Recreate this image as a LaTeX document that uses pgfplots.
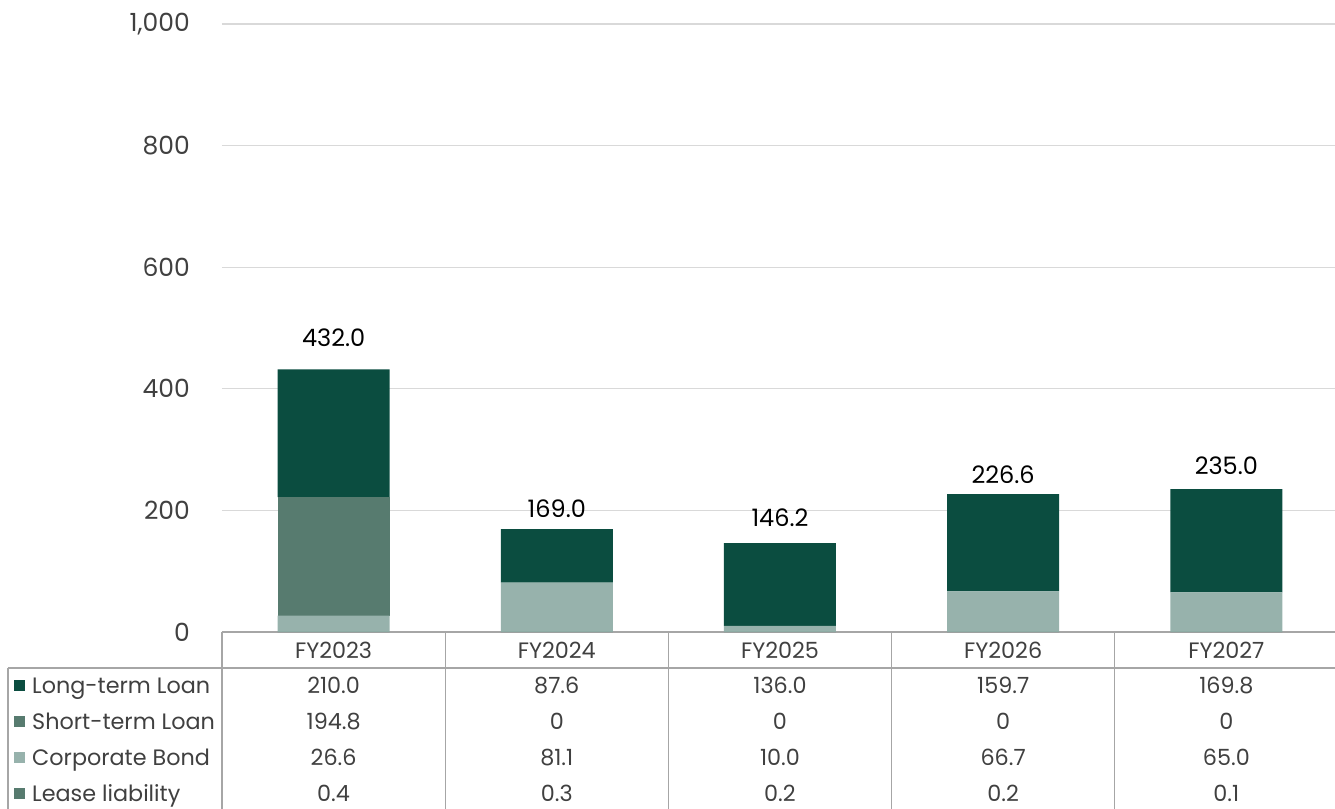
\documentclass[border=0pt]{standalone}
\usepackage{fontspec}
\setmainfont{Poppins}
\usepackage{pgfplots}
\usepackage{pgfplotstable}
\pgfplotsset{compat=1.18}
\definecolor{clt}{HTML}{0B4D40}
\definecolor{cst}{HTML}{577B6F}
\definecolor{ccb}{HTML}{97B2AC}
\definecolor{cll}{HTML}{577B6F}
\definecolor{txt}{HTML}{404040}
\definecolor{gridc}{HTML}{D9D9D9}
\definecolor{tline}{HTML}{A6A6A6}
\newcommand\tickfont{\fontsize{25}{30}\selectfont}
\newcommand\tabfont{\fontsize{22.3}{26}\selectfont}
\newcommand\lblfont{\fontsize{24}{28}\selectfont}

\pgfplotstableread{
x   lt    st    cb   ll  total dy
0.5 210.0 194.8 26.6 0.4 432.0 32
1.5 87.6  0     81.1 0.3 169.0 21
2.5 136.0 0     10.0 0.2 146.2 25
3.5 159.7 0     66.7 0.2 226.6 20
4.5 169.8 0     65.0 0.1 235.0 23
}\data

\begin{document}
\begin{tikzpicture}
\pgfplotsset{base/.style={
  at={(0pt,0pt)}, anchor=south west, scale only axis,
  width=1116pt, height=608pt,
  xmin=0, xmax=5, ymin=0, ymax=1000,
}}
\begin{axis}[base,
  ybar stacked, bar width=112pt,
  axis lines*=left,
  y axis line style={draw=none},
  x axis line style={tline, line width=1.3pt},
  major tick length=0pt,
  ymajorgrids, major grid style={gridc, line width=1.2pt},
  ytick={0,200,400,600,800,1000},
  /pgf/number format/assume math mode=true,
  /pgf/number format/1000 sep={,},
  yticklabel style={anchor=east, inner sep=0pt, xshift=-32pt, font=\tickfont, text=txt},
  xtick={0.5,1.5,2.5,3.5,4.5},
  xticklabels={FY2023,FY2024,FY2025,FY2026,FY2027},
  xticklabel style={anchor=base, inner sep=0pt, yshift=-26pt, font=\tabfont, text=txt},
]
\addplot[fill=cll, draw=none] table[x=x, y=ll]{\data};
\addplot[fill=ccb, draw=none] table[x=x, y=cb]{\data};
\addplot[fill=cst, draw=none] table[x=x, y=st]{\data};
\addplot[fill=clt, draw=none] table[x=x, y=lt]{\data};
\end{axis}
\begin{axis}[base, hide axis, clip=false,
  nodes near coords, point meta=explicit symbolic,
  every node near coord/.append style={anchor=base, inner sep=0pt, font=\tabfont, text=txt}]
\addplot[draw=none, mark=none, nodes near coords style={yshift=-61pt}] table[x=x, y expr=0, meta=lt]{\data};
\addplot[draw=none, mark=none, nodes near coords style={yshift=-97pt}] table[x=x, y expr=0, meta=st]{\data};
\addplot[draw=none, mark=none, nodes near coords style={yshift=-133pt}] table[x=x, y expr=0, meta=cb]{\data};
\addplot[draw=none, mark=none, nodes near coords style={yshift=-169pt}] table[x=x, y expr=0, meta=ll]{\data};
\addplot[draw=none, mark=none,
  visualization depends on={\thisrow{dy} \as \dy},
  nodes near coords style={anchor=center, yshift=\dy pt, font=\lblfont, text=black}] table[x=x, y=total, meta=total]{\data};
\end{axis}
% data table frame
\begin{scope}[tline, line width=1.3pt]
\draw (-214pt,-36pt) -- (1116pt,-36pt);
\draw (-214pt,-36pt) -- (-214pt,-190pt);
\foreach \k in {0,1,2,3,4,5} {
  \draw ({\k*223.2pt},0pt) -- ({\k*223.2pt},-190pt);
}
\end{scope}
\foreach \y/\c/\t in {-53/clt/Long-term Loan,-89/cst/Short-term Loan,-125/ccb/Corporate Bond,-161/cll/Lease liability} {
  \fill[\c] (-208pt,{\y*1pt-5.5pt}) rectangle ++(11pt,11pt);
  \node[anchor=base west, inner sep=0pt, font=\tabfont, text=txt] at (-190pt,\y pt-8pt) {\t};
}
\pgfresetboundingbox
\useasboundingbox (-222pt,-176pt) rectangle (1113pt,632pt);
\end{tikzpicture}
\end{document}
